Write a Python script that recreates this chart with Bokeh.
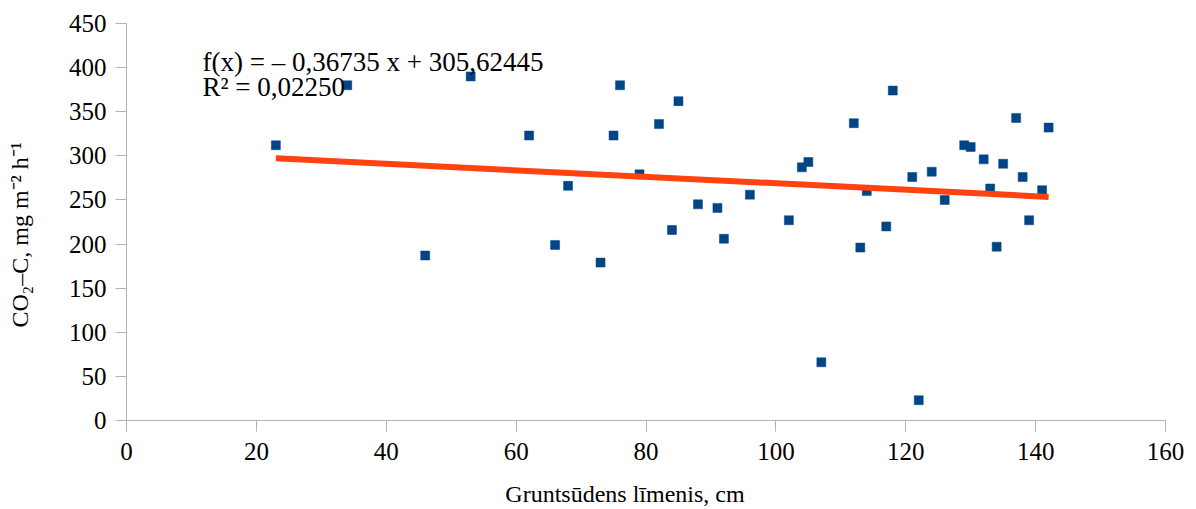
import math
from bokeh.plotting import figure
from bokeh.models import Range1d, FixedTicker, Label, ColumnDataSource, Title
from bokeh.embed import file_html
from bokeh.resources import INLINE

# Data
water_level_cm = [23, 34, 46, 53, 62, 66, 68, 73, 75, 76, 79, 82, 84, 85, 88, 91, 92, 96,
                  102, 104, 105, 107, 112, 113, 114, 117, 118, 121, 122, 124, 126, 129,
                  130, 132, 133, 134, 135, 137, 138, 139, 141, 142]
co2_flux = [312, 380, 187, 390, 323, 199, 266, 179, 323, 380, 279, 336, 216, 362, 245,
            241, 206, 256, 227, 287, 293, 66, 337, 196, 260, 220, 374, 276, 23, 282,
            250, 312, 310, 296, 263, 197, 291, 343, 276, 227, 261, 332]

slope = -0.36735
intercept = 305.62445
r_squared = "0,02250"

x_ticks = [0, 20, 40, 60, 80, 100, 120, 140, 160]
y_ticks = [0, 50, 100, 150, 200, 250, 300, 350, 400, 450]

x_title = "Gruntsūdens līmenis, cm"
y_title = "CO\u2082\u2013C, mg m\u207b\u00b2 h\u207b\u00b9"

FONT = "Liberation Serif"
AXIS_GREY = "#b3b3b3"

p = figure(width=1196, height=509, output_backend="svg", toolbar_location=None,
           x_range=Range1d(0, 160), y_range=Range1d(0, 450),
           min_border_left=126, min_border_right=31, min_border_top=23,
           min_border_bottom=89)
p.outline_line_color = None
p.grid.visible = False
p.background_fill_color = "white"
p.border_fill_color = "white"

for ax in (p.xaxis[0], p.yaxis[0]):
    ax.axis_line_color = AXIS_GREY
    ax.major_tick_line_color = AXIS_GREY
    ax.major_tick_out = 11
    ax.major_tick_in = 0
    ax.minor_tick_line_color = None
    ax.major_label_text_font = FONT
    ax.major_label_text_font_size = "25px"
    ax.major_label_text_color = "black"

p.xaxis[0].ticker = FixedTicker(ticks=x_ticks)
p.yaxis[0].ticker = FixedTicker(ticks=y_ticks)
p.xaxis[0].major_label_standoff = 11
p.yaxis[0].major_label_standoff = 9

# trailing no-break spaces shift the centred title left, as in the reference
p.xaxis[0].axis_label = x_title + "\u00a0" * 7
p.xaxis[0].axis_label_text_font = FONT
p.xaxis[0].axis_label_text_font_size = "24px"
p.xaxis[0].axis_label_text_font_style = "normal"
p.xaxis[0].axis_label_text_color = "black"
p.xaxis[0].axis_label_standoff = 18

src = ColumnDataSource(dict(x=water_level_cm, y=co2_flux))
p.scatter("x", "y", source=src, marker="square", size=9,
          fill_color="#004586", line_color="#004586", line_width=0.5)

x0, x1 = min(water_level_cm), max(water_level_cm)
p.line([x0, x1], [slope * x0 + intercept, slope * x1 + intercept],
       line_color="#ff420e", line_width=6)

# equation text (data units inside the frame)
p.add_layout(Label(x=11.7, y=406.5, text="f(x) = \u2013 0,36735 x + 305,62445",
                   text_font=FONT, text_font_size="27px", text_color="black",
                   text_align="left", text_baseline="alphabetic"))
p.add_layout(Label(x=11.7, y=378.0, text="R\u00b2 = " + r_squared,
                   text_font=FONT, text_font_size="27px", text_color="black",
                   text_align="left", text_baseline="alphabetic"))

# y-axis title as a left-side Title (second empty line pushes it outward)
ytitle = Title(text=y_title + "\n ", align="left", offset=93,
               vertical_align="top", text_line_height=1.0,
               text_font=FONT, text_font_size="24px", text_font_style="normal",
               text_color="black", standoff=10)
p.add_layout(ytitle, "left")

open("out.html", "w").write(file_html(p, INLINE))
